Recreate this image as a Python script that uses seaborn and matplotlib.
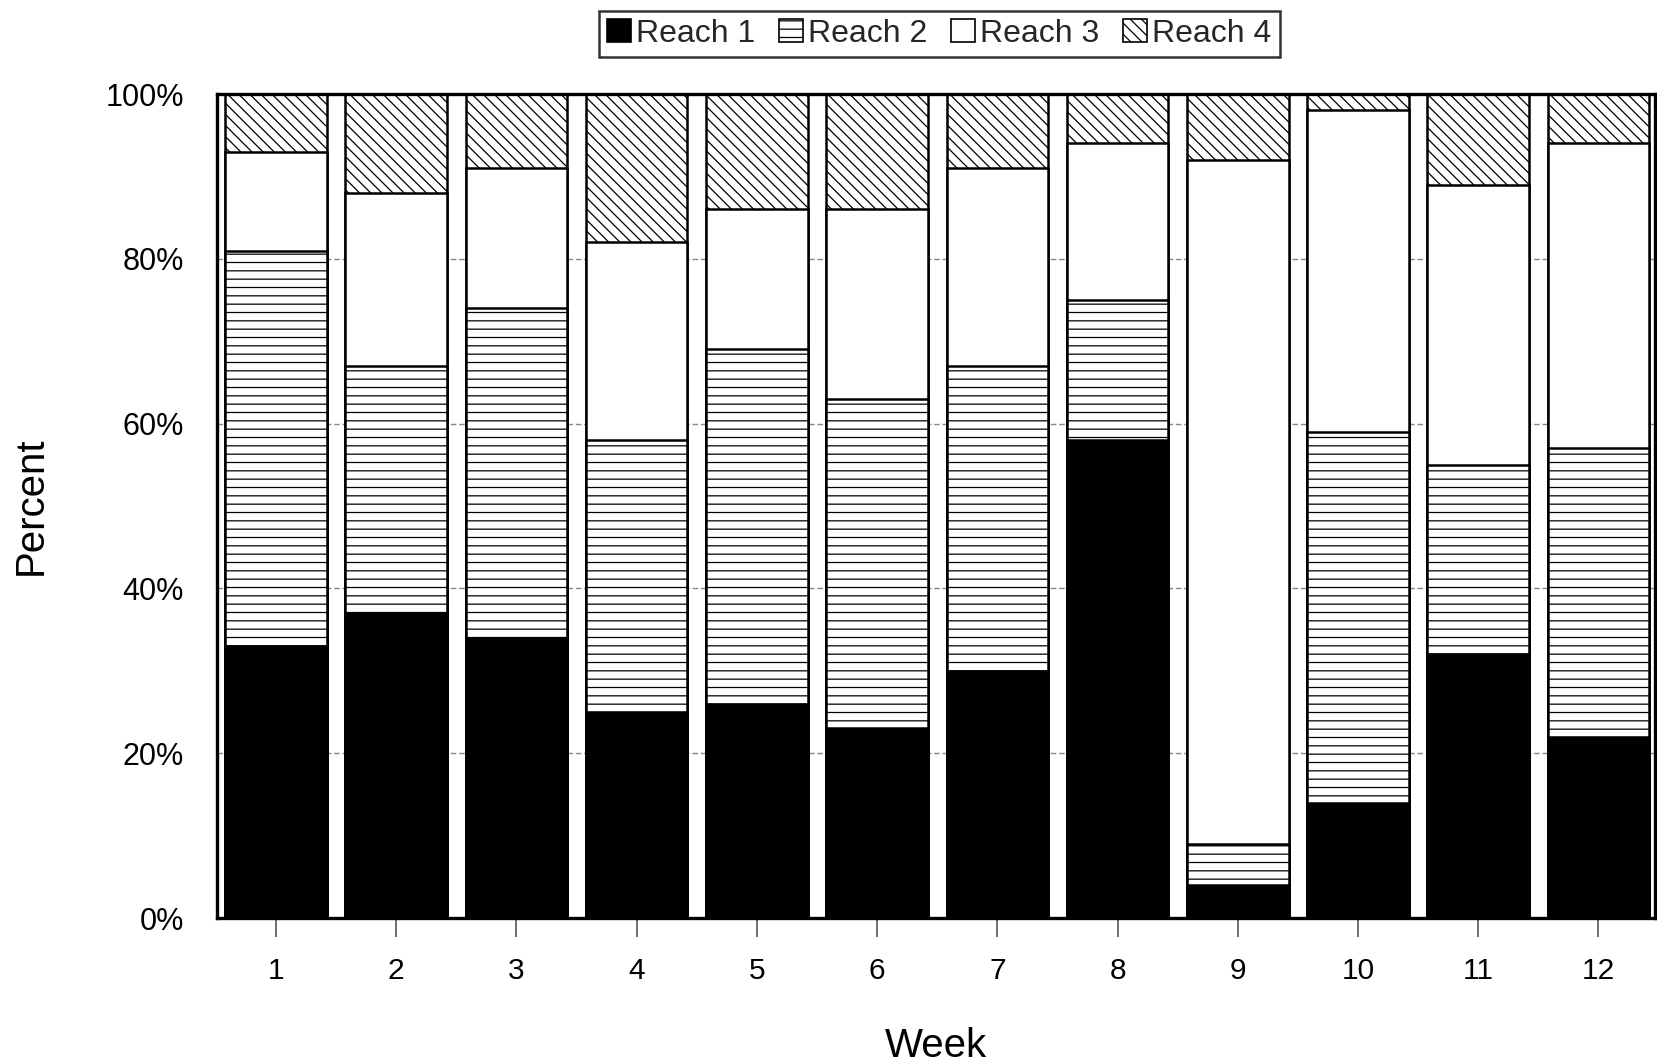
import numpy as np
import pandas as pd
import matplotlib
matplotlib.use("Agg")
import matplotlib.pyplot as plt
from matplotlib.patches import Patch
import seaborn as sns

# values (percent of each week)
weeks = ["1", "2", "3", "4", "5", "6", "7", "8", "9", "10", "11", "12"]
reach1 = [33, 37, 34, 25, 26, 23, 30, 58, 4, 14, 32, 22]
reach2 = [48, 30, 40, 33, 43, 40, 37, 17, 5, 45, 23, 35]
reach3 = [12, 21, 17, 24, 17, 23, 24, 19, 83, 39, 34, 37]
reach4 = [7, 12, 9, 18, 14, 14, 9, 6, 8, 2, 11, 6]
series_names = ["Reach 1", "Reach 2", "Reach 3", "Reach 4"]
y_ticks = [0, 20, 40, 60, 80, 100]
y_ticklabels = ["0%", "20%", "40%", "60%", "80%", "100%"]

sns.set_theme(style="white")
plt.rcParams["font.family"] = ["Liberation Sans", "DejaVu Sans"]
plt.rcParams["hatch.linewidth"] = 0.9

df = pd.DataFrame({"Week": weeks, "Reach 1": reach1, "Reach 2": reach2,
                   "Reach 3": reach3, "Reach 4": reach4})
# cumulative tops, drawn tallest first so each layer covers the one below
cum = df[series_names].cumsum(axis=1)

fills = {"Reach 1": "black", "Reach 2": "white", "Reach 3": "white", "Reach 4": "white"}
hatches = {"Reach 1": None, "Reach 2": "--", "Reach 3": None, "Reach 4": "\\\\\\"}

fig = plt.figure(figsize=(16.57, 10.64), dpi=100)
ax = fig.add_axes([217 / 1657, 1 - 918 / 1064, (1655 - 217) / 1657, (918 - 94) / 1064])

for z, name in enumerate(reversed(series_names)):
    sns.barplot(x=df["Week"], y=cum[name], ax=ax, color=fills[name],
                edgecolor="black", linewidth=1.8, width=0.845, hatch=hatches[name],
                errorbar=None, zorder=3 + z, saturation=1)

ax.set_xlim(-0.49, 11.47)
ax.set_ylim(0, 100)
ax.set_yticks(y_ticks)
ax.set_yticklabels(y_ticklabels)
ax.yaxis.grid(True, linestyle=(0, (4, 2)), color="#888888", linewidth=1.0)
ax.set_axisbelow(True)

for s in ax.spines.values():
    s.set_visible(True)
    s.set_color("black")
    s.set_linewidth(2.4)
    s.set_zorder(20)

ax.tick_params(axis="x", direction="out", length=14, width=1.2, color="#555555",
               labelsize=21.5, pad=14, bottom=True, labelcolor="black")
ax.tick_params(axis="y", length=0, labelsize=22, pad=24, left=False, labelcolor="black")

ax.set_xlabel("Week", fontsize=29, labelpad=30, color="black")
ax.set_ylabel("Percent", fontsize=29, labelpad=40, color="black")

handles = [Patch(facecolor=fills[n], edgecolor="black", hatch=hatches[n], linewidth=1.2)
           for n in series_names]
leg = fig.legend(handles, series_names, loc="center", bbox_to_anchor=(0.567, 0.9685),
                 ncol=4, fontsize=23, frameon=True, fancybox=False,
                 handlelength=0.75, handleheight=0.75, handletextpad=0.15,
                 columnspacing=0.75, borderpad=0.25, borderaxespad=0)
leg.get_frame().set_edgecolor("black")
leg.get_frame().set_linewidth(1.8)

fig.savefig("out.png", dpi=100)
